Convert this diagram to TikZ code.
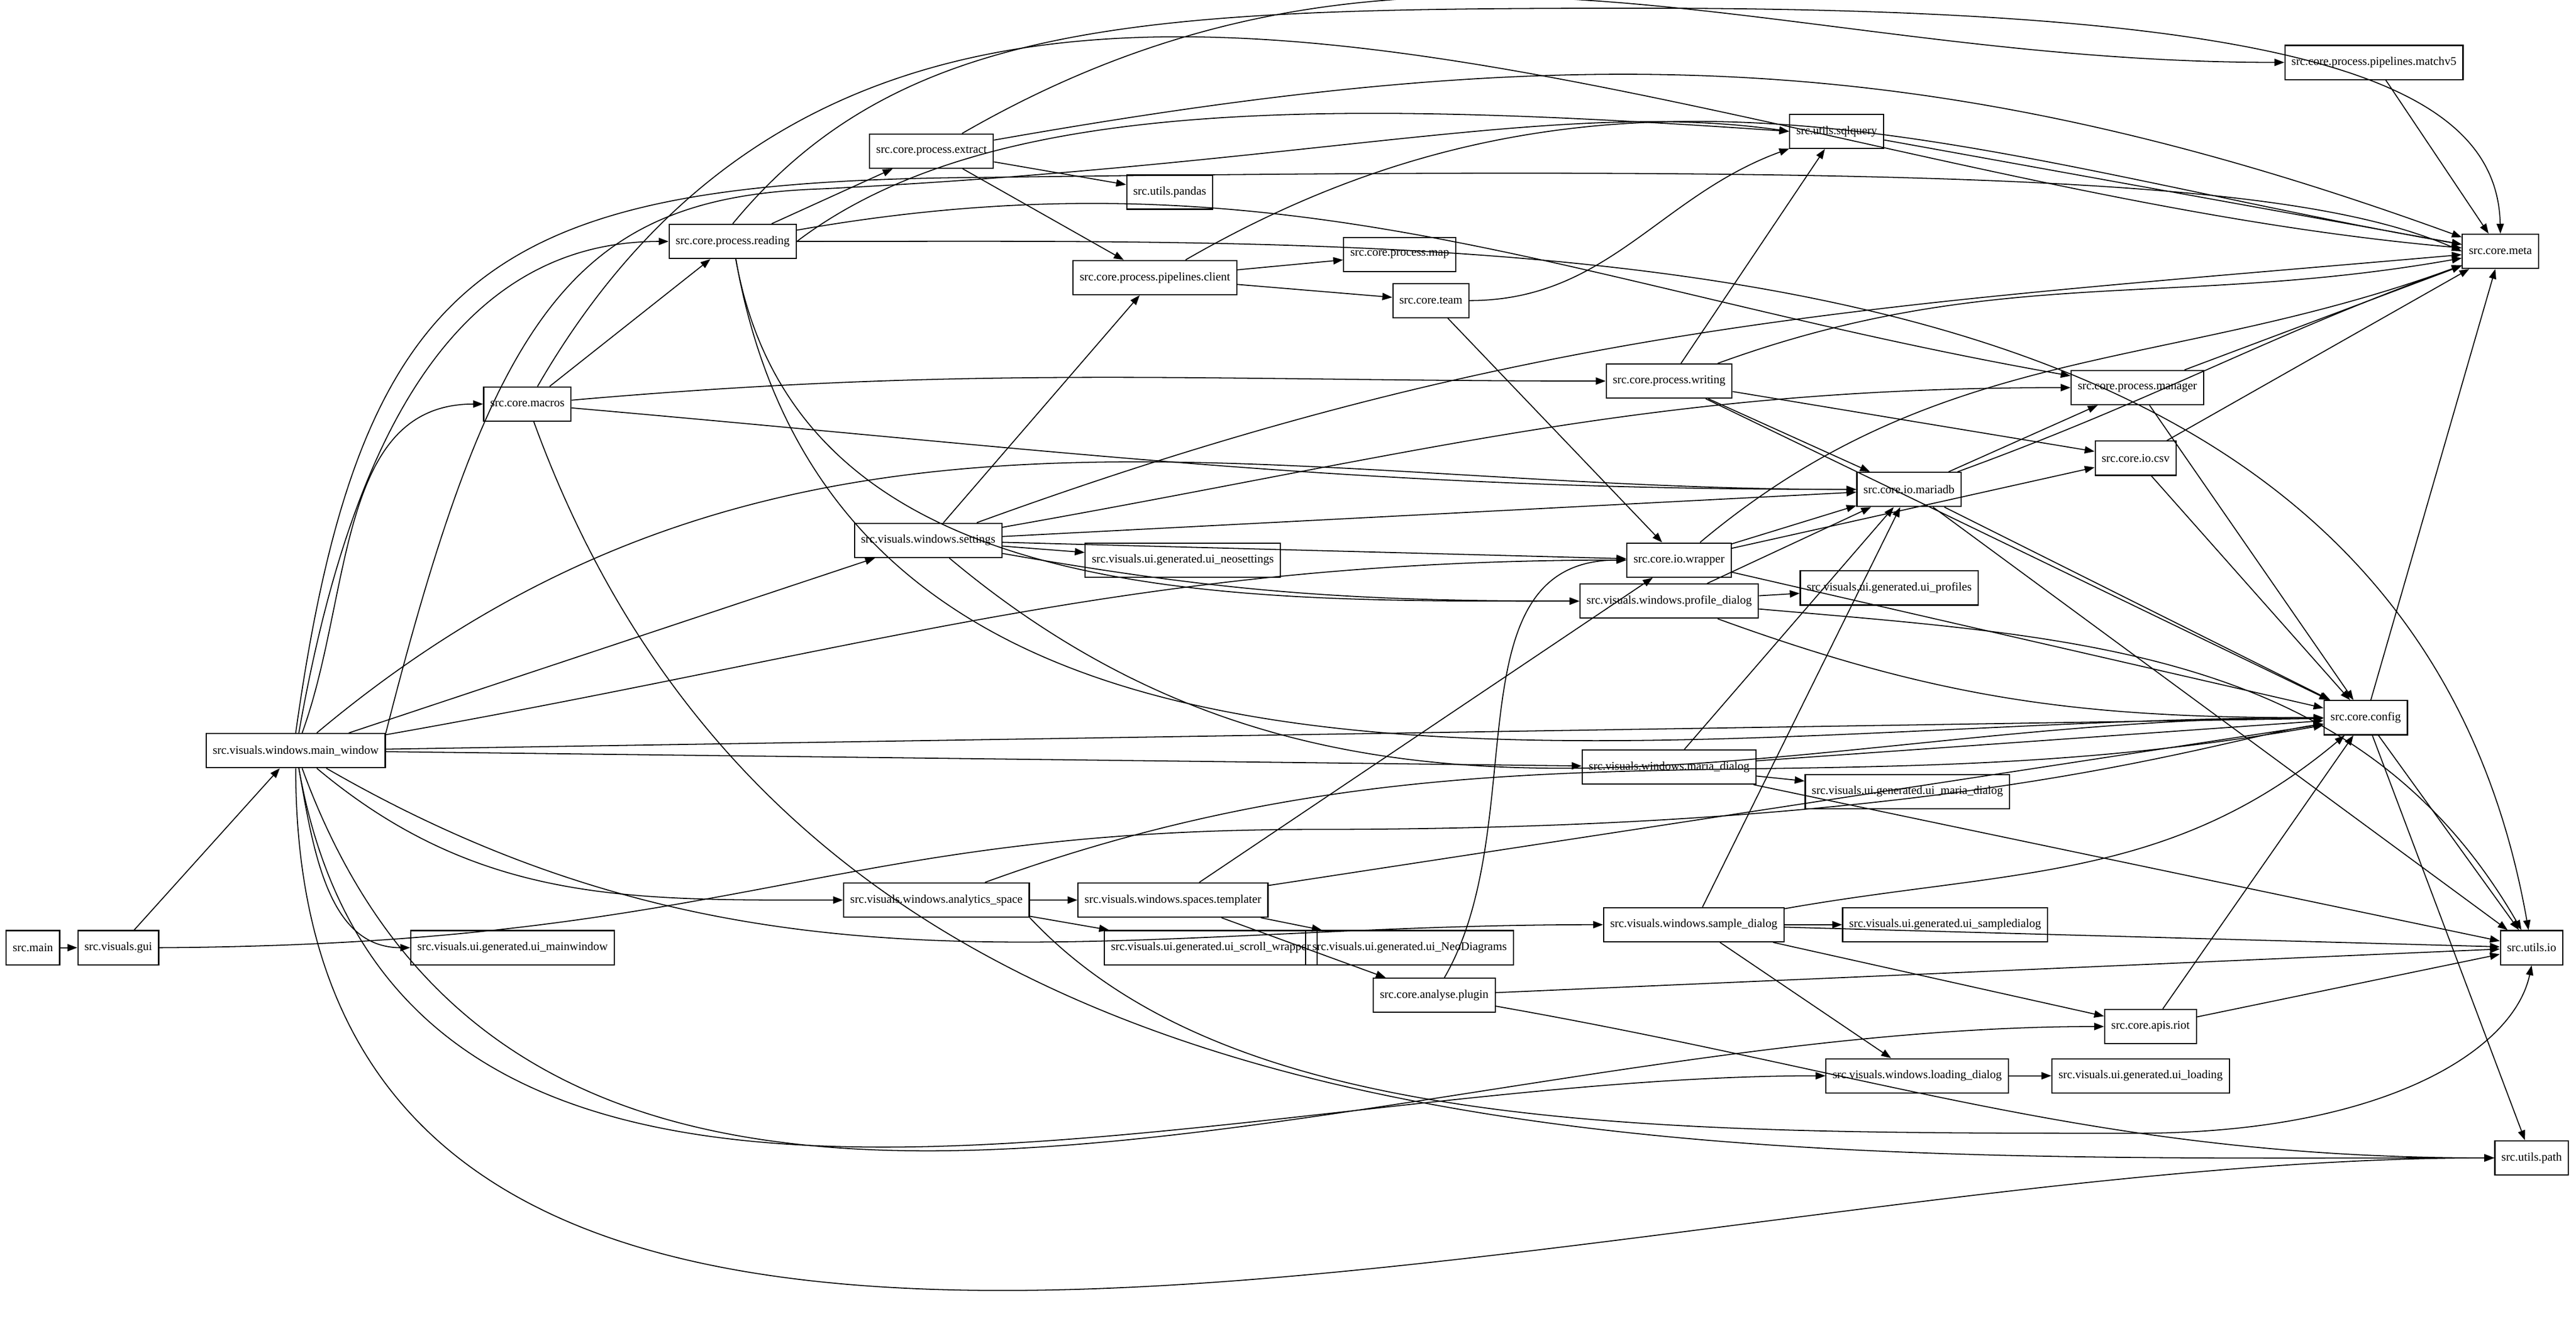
\documentclass[tikz,border=0pt]{standalone}
\usepackage{fontspec}
\setmainfont{Liberation Serif}
\usetikzlibrary{arrows.meta}
\begin{document}
\begin{tikzpicture}[x=0.25pt,y=-0.25pt,
 box/.style={draw,line width=0.18pt,font=\fontsize{1.8}{2.2}\selectfont,inner xsep=1pt,inner ysep=0.5pt,minimum height=5.2pt},
 e/.style={-{Triangle[length=1.5pt,width=1.1pt]},line width=0.15pt}]
\useasboundingbox (0,0) rectangle (1568,803);
\node[box] (main) at (20,577) {src.main};
\node[box] (gui) at (72,577) {src.visuals.gui};
\node[box] (mw) at (180,457) {src.visuals.windows.main\_window};
\node[box] (uimw) at (312,577) {src.visuals.ui.generated.ui\_mainwindow};
\node[box] (as) at (570,548) {src.visuals.windows.analytics\_space};
\node[box] (usw) at (737,577) {src.visuals.ui.generated.ui\_scroll\_wrapper};
\node[box] (tpl) at (714,548) {src.visuals.windows.spaces.templater};
\node[box] (und) at (858,577) {src.visuals.ui.generated.ui\_NeoDiagrams};
\node[box] (plg) at (873,606) {src.core.analyse.plugin};
\node[box] (sd) at (1031,563) {src.visuals.windows.sample\_dialog};
\node[box] (usd) at (1184,563) {src.visuals.ui.generated.ui\_sampledialog};
\node[box] (ld) at (1167,655) {src.visuals.windows.loading\_dialog};
\node[box] (ul) at (1303,655) {src.visuals.ui.generated.ui\_loading};
\node[box] (riot) at (1309,625) {src.core.apis.riot};
\node[box] (path) at (1541,705) {src.utils.path};
\node[box] (io) at (1541,577) {src.utils.io};
\node[box] (cfg) at (1440,437) {src.core.config};
\node[box] (md) at (1016,467) {src.visuals.windows.maria\_dialog};
\node[box] (umd) at (1161,482) {src.visuals.ui.generated.ui\_maria\_dialog};
\node[box] (pd) at (1016,366) {src.visuals.windows.profile\_dialog};
\node[box] (up) at (1150,358) {src.visuals.ui.generated.ui\_profiles};
\node[box] (wr) at (1022,341) {src.core.io.wrapper};
\node[box] (mdb) at (1162,298) {src.core.io.mariadb};
\node[box] (csv) at (1300,279) {src.core.io.csv};
\node[box] (mgr) at (1301,236) {src.core.process.manager};
\node[box] (wri) at (1016,232) {src.core.process.writing};
\node[box] (meta) at (1522,153) {src.core.meta};
\node[box] (team) at (871,183) {src.core.team};
\node[box] (map) at (852,155) {src.core.process.map};
\node[box] (pc) at (703,169) {src.core.process.pipelines.client};
\node[box] (ext) at (567,92) {src.core.process.extract};
\node[box] (pan) at (712,117) {src.utils.pandas};
\node[box] (sql) at (1118,80) {src.utils.sqlquery};
\node[box] (mv5) at (1445,38) {src.core.process.pipelines.matchv5};
\node[box] (rd) at (446,147) {src.core.process.reading};
\node[box] (mac) at (321,246) {src.core.macros};
\node[box] (set) at (565,329) {src.visuals.windows.settings};
\node[box] (uns) at (720,341) {src.visuals.ui.generated.ui\_neosettings};
% edges
\draw[e] (main) -- (gui);
\draw[e] (gui) -- (mw);
\draw[e] (gui.east) .. controls (450,575) and (500,505) .. (800,505) .. controls (1200,505) and (1350,450) .. (cfg);
\draw[e] (mw) to[out=80,in=180] (rd);
\draw[e] (mw) to[out=70,in=180] (mac);
\draw[e] (mw) -- (set);
\draw[e] (mw) to[out=40,in=180] (mdb);
\draw[e] (mw) to[out=10,in=180] (wr);
\draw[e] (mw) -- (cfg);
\draw[e] (mw) -- (md);
\draw[e] (mw) to[out=-30,in=180] (sd);
\draw[e] (mw) to[out=-40,in=180] (as);
\draw[e] (mw) to[out=-80,in=180] (uimw);
\draw[e] (mw) to[out=-70,in=180] (riot);
\draw[e] (mw) to[out=-80,in=180] (ld);
\draw[e] (mw) to[out=-90,in=180] (path);
\draw[e] (mw.north) .. controls (220,160) and (300,110) .. (600,108) .. controls (1200,100) and (1400,110) .. (meta.west);
\draw[e] (mw.north east) .. controls (300,190) and (350,120) .. (500,115) .. controls (800,100) and (950,60) .. (sql.west);
\draw[e] (rd) -- (ext);
\draw[e] (rd.north) .. controls (550,10) and (700,5) .. (1000,5) .. controls (1400,5) and (1520,50) .. (meta.north);
\draw[e] (rd.east) .. controls (600,60) and (800,60) .. (sql.west);
\draw[e] (rd) to[out=10,in=170] (mgr);
\draw[e] (rd) to[out=0,in=100] (io);
\draw[e] (rd) to[out=-80,in=180] (pd);
\draw[e] (rd) to[out=-80,in=180] (cfg);
\draw[e] (ext) to[out=30,in=180] (mv5);
\draw[e] (ext) to[out=10,in=160] (meta);
\draw[e] (ext) -- (pan);
\draw[e] (ext) -- (pc);
\draw[e] (pc) to[out=30,in=170] (meta);
\draw[e] (pc) -- (map);
\draw[e] (pc) -- (team);
\draw[e] (team) to[out=0,in=200] (sql);
\draw[e] (team) -- (wr);
\draw[e] (mac) -- (rd);
\draw[e] (mac) to[out=5,in=180] (wri);
\draw[e] (mac) to[out=-5,in=180] (mdb);
\draw[e] (mac) to[out=-70,in=180] (path);
\draw[e] (mac) to[out=60,in=175] (meta);
\draw[e] (wri) -- (sql);
\draw[e] (wri) to[out=20,in=190] (meta);
\draw[e] (wri) -- (csv);
\draw[e] (wri) -- (mdb);
\draw[e] (wri) -- (cfg);
\draw[e] (mgr) -- (meta);
\draw[e] (mgr) -- (cfg);
\draw[e] (csv) -- (meta);
\draw[e] (csv) -- (cfg);
\draw[e] (mdb) to[out=20,in=200] (meta);
\draw[e] (mdb) -- (mgr);
\draw[e] (mdb) -- (cfg);
\draw[e] (mdb) -- (io);
\draw[e] (wr) -- (mdb);
\draw[e] (wr) -- (csv);
\draw[e] (wr) -- (cfg);
\draw[e] (wr) to[out=40,in=200] (meta);
\draw[e] (set) -- (pc);
\draw[e] (set) -- (uns);
\draw[e] (set) -- (mdb);
\draw[e] (set) -- (wr);
\draw[e] (set) to[out=-10,in=180] (pd);
\draw[e] (set) to[out=10,in=180] (mgr);
\draw[e] (set) to[out=-40,in=180] (cfg);
\draw[e] (set) to[out=20,in=185] (meta);
\draw[e] (pd) -- (mdb);
\draw[e] (pd) -- (up);
\draw[e] (pd) to[out=-20,in=180] (cfg);
\draw[e] (pd) to[out=-5,in=120] (io);
\draw[e] (md) -- (mdb);
\draw[e] (md) -- (umd);
\draw[e] (md) -- (cfg);
\draw[e] (md) -- (io);
\draw[e] (as) -- (tpl);
\draw[e] (as) -- (usw);
\draw[e] (as) to[out=20,in=190] (cfg);
\draw[e] (as.south east) .. controls (750,690) and (1000,690) .. (1300,690) .. controls (1450,690) and (1530,640) .. (io.south);
\draw[e] (tpl) -- (wr);
\draw[e] (tpl) -- (cfg);
\draw[e] (tpl) -- (und);
\draw[e] (tpl) -- (plg);
\draw[e] (plg) to[out=60,in=180] (wr);
\draw[e] (plg) -- (io);
\draw[e] (plg) to[out=-10,in=180] (path);
\draw[e] (sd) -- (mdb);
\draw[e] (sd) -- (usd);
\draw[e] (sd) to[out=10,in=220] (cfg);
\draw[e] (sd) -- (io);
\draw[e] (sd) -- (riot);
\draw[e] (sd) -- (ld);
\draw[e] (riot) -- (cfg);
\draw[e] (riot) -- (io);
\draw[e] (ld) -- (ul);
\draw[e] (cfg) -- (meta);
\draw[e] (cfg) -- (io);
\draw[e] (cfg) -- (path);
\draw[e] (sql) -- (meta);
\draw[e] (mv5) -- (meta);
\end{tikzpicture}
\end{document}
